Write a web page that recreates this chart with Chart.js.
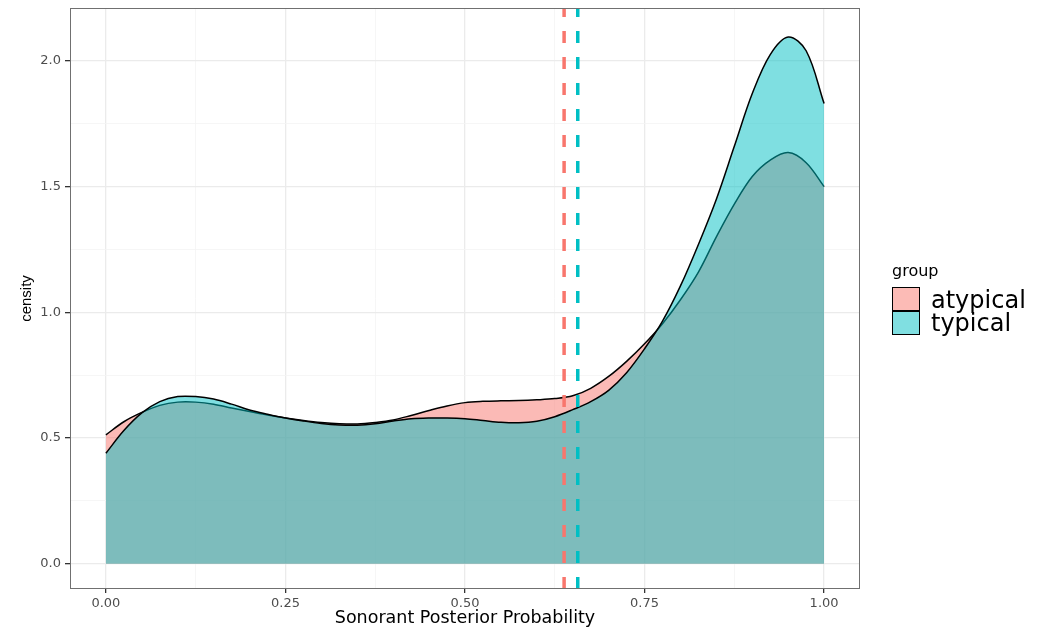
<!DOCTYPE html>
<html lang="en">
<head>
    <meta charset="UTF-8">
    <title>Sonorant Posterior Probability</title>
    <script src="https://cdn.jsdelivr.net/npm/chart.js"></script>
    <style>
        body { margin: 0; background: #fff; font-family: "DejaVu Sans", sans-serif; }
        .wrap { position: relative; width: 1043px; height: 627px; }
        .legend-title { position: absolute; left: 892px; top: 261px; font-size: 16px; color: #000; line-height: 20px; }
        .box { position: absolute; left: 892px; width: 28px; height: 24px; border: 1.5px solid #000; box-sizing: border-box; }
        .lbl { position: absolute; left: 931px; font-size: 24px; line-height: 24px; color: #000; }
    </style>
</head>
<body>
<div class="wrap">
    <canvas id="densityChart" width="1043" height="627"></canvas>
    <div class="legend-title">group</div>
    <div class="box" style="top:287px; background:#FCBBB6"></div>
    <div class="box" style="top:310.5px; background:#80DFE1"></div>
    <span class="lbl" style="top:288px">atypical</span>
    <span class="lbl" style="top:311px">typical</span>
</div>

<script>
// x positions of the density estimate
const xs = [0, 0.025, 0.05, 0.075, 0.1, 0.125, 0.15, 0.175, 0.2, 0.225, 0.25,
            0.275, 0.3, 0.325, 0.35, 0.375, 0.4, 0.425, 0.45, 0.475, 0.5,
            0.525, 0.55, 0.575, 0.6, 0.625, 0.65, 0.675, 0.7, 0.725, 0.75,
            0.775, 0.8, 0.825, 0.85, 0.875, 0.9, 0.925, 0.95, 0.975, 1];
const atypicalDensity = [0.513, 0.565, 0.602, 0.63, 0.643, 0.643, 0.635, 0.62, 0.606, 0.592, 0.58,
                         0.57, 0.562, 0.557, 0.556, 0.562, 0.572, 0.59, 0.61, 0.628, 0.641,
                         0.646, 0.648, 0.649, 0.652, 0.657, 0.668, 0.698, 0.745, 0.805, 0.875,
                         0.955, 1.05, 1.16, 1.30, 1.43, 1.54, 1.605, 1.635, 1.595, 1.50];
const typicalDensity = [0.44, 0.53, 0.60, 0.645, 0.665, 0.665, 0.655, 0.635, 0.612, 0.595, 0.58,
                        0.568, 0.558, 0.552, 0.551, 0.557, 0.568, 0.577, 0.58, 0.58, 0.577,
                        0.57, 0.563, 0.561, 0.567, 0.585, 0.613, 0.645, 0.69, 0.76, 0.855,
                        0.965, 1.105, 1.27, 1.45, 1.66, 1.87, 2.025, 2.095, 2.04, 1.83];
const groupMeans = [0.638, 0.657];  // atypical, typical

const xTicks = [0, 0.25, 0.5, 0.75, 1];
const xMinor = [0.125, 0.375, 0.625, 0.875];
const yTicks = [0, 0.5, 1, 1.5, 2];
const yMinor = [0.25, 0.75, 1.25, 1.75];

const pink = "#F8766D";
const teal = "#00BFC4";

function pts(ys) {
    return xs.map((x, i) => ({ x: x, y: ys[i] }));
}
function vline(x) {
    return [{ x: x, y: -0.1 }, { x: x, y: 2.21 }];
}
function isMajor(list, v) {
    return list.some(t => Math.abs(t - v) < 1e-9);
}

// panel border like theme_bw
const panelBorder = {
    id: "panelBorder",
    afterDraw(chart) {
        const a = chart.chartArea, c = chart.ctx;
        c.save();
        c.strokeStyle = "#707070";
        c.lineWidth = 1;
        c.strokeRect(a.left + 0.5, a.top + 0.5, a.right - a.left - 1, a.bottom - a.top - 1);
        c.restore();
    }
};

const ctx = document.getElementById("densityChart").getContext("2d");
new Chart(ctx, {
    type: "line",
    data: {
        datasets: [
            {
                label: "atypical",
                data: pts(atypicalDensity),
                borderColor: "#000",
                borderWidth: 1.5,
                backgroundColor: "rgba(248,118,109,0.5)",
                fill: "origin",
                pointRadius: 0,
                tension: 0.35,
                order: 3
            },
            {
                label: "typical",
                data: pts(typicalDensity),
                borderColor: "#000",
                borderWidth: 1.5,
                backgroundColor: "rgba(0,191,196,0.5)",
                fill: "origin",
                pointRadius: 0,
                tension: 0.35,
                order: 2
            },
            {
                label: "mean atypical",
                data: vline(groupMeans[0]),
                borderColor: pink,
                borderWidth: 3.5,
                borderDash: [12, 14],
                fill: false,
                pointRadius: 0,
                order: 1
            },
            {
                label: "mean typical",
                data: vline(groupMeans[1]),
                borderColor: teal,
                borderWidth: 3.5,
                borderDash: [12, 14],
                fill: false,
                pointRadius: 0,
                order: 0
            }
        ]
    },
    options: {
        responsive: false,
        animation: false,
        layout: { padding: { top: 8, right: 183, left: 0, bottom: 0 } },
        plugins: {
            legend: { display: false },
            tooltip: { enabled: false }
        },
        scales: {
            x: {
                type: "linear",
                min: -0.05,
                max: 1.05,
                afterBuildTicks: s => { s.ticks = xTicks.concat(xMinor).sort((a, b) => a - b).map(v => ({ value: v })); },
                afterFit: s => { s.height = 38; s.paddingLeft = 0; s.paddingRight = 0; },
                ticks: {
                    color: "#4D4D4D",
                    font: { size: 13, family: "DejaVu Sans" },
                    padding: 3,
                    maxRotation: 0,
                    autoSkip: false,
                    callback: v => isMajor(xTicks, v) ? v.toFixed(2) : ""
                },
                grid: {
                    color: c => isMajor(xTicks, c.tick.value) ? "#EBEBEB" : "#F4F4F4",
                    lineWidth: c => isMajor(xTicks, c.tick.value) ? 1.3 : 0.8,
                    tickColor: c => isMajor(xTicks, c.tick.value) ? "#333" : "rgba(0,0,0,0)",
                    tickLength: 4
                },
                border: { display: false },
                title: {
                    display: true,
                    text: "Sonorant Posterior Probability",
                    color: "#000",
                    font: { size: 17.5, family: "DejaVu Sans" },
                    padding: { top: 0, bottom: -2 }
                }
            },
            y: {
                type: "linear",
                min: -0.1,
                max: 2.21,
                afterBuildTicks: s => { s.ticks = yTicks.concat(yMinor).sort((a, b) => a - b).map(v => ({ value: v })); },
                afterFit: s => { s.width = 70; s.paddingTop = 0; s.paddingBottom = 0; },
                ticks: {
                    color: "#4D4D4D",
                    font: { size: 13, family: "DejaVu Sans" },
                    padding: 4,
                    autoSkip: false,
                    callback: v => isMajor(yTicks, v) ? v.toFixed(1) : ""
                },
                grid: {
                    color: c => isMajor(yTicks, c.tick.value) ? "#EBEBEB" : "#F4F4F4",
                    lineWidth: c => isMajor(yTicks, c.tick.value) ? 1.3 : 0.8,
                    tickColor: c => isMajor(yTicks, c.tick.value) ? "#333" : "rgba(0,0,0,0)",
                    tickLength: 5
                },
                border: { display: false },
                title: {
                    display: true,
                    text: "censity",
                    color: "#000",
                    font: { size: 15, family: "Liberation Sans" },
                    padding: { top: 18, bottom: 0 }
                }
            }
        }
    },
    plugins: [panelBorder]
});
</script>
</body>
</html>
